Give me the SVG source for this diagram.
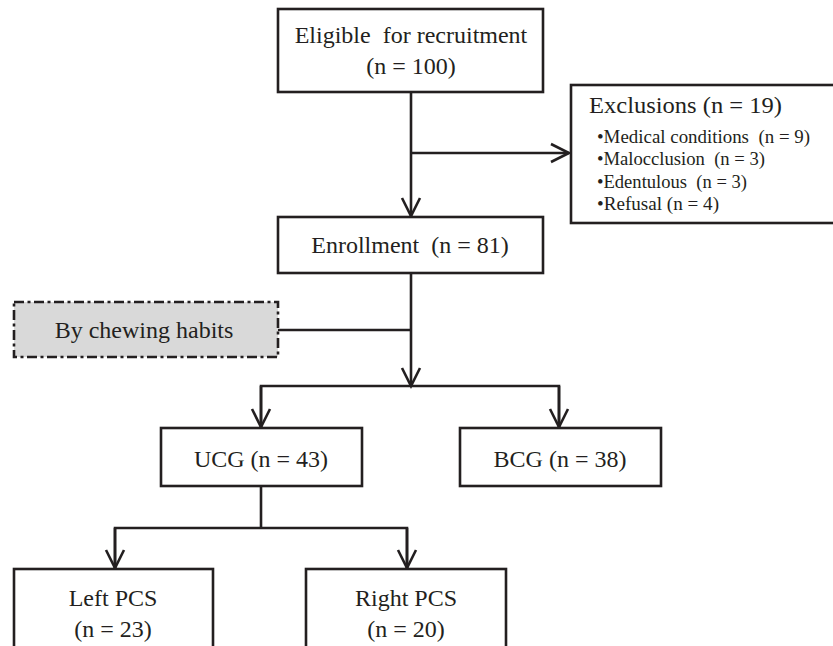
<svg xmlns="http://www.w3.org/2000/svg" width="833" height="646" viewBox="0 0 833 646">
<style>
  .box{fill:#ffffff;stroke:#231f20;stroke-width:2.6}
  .dash{fill:#d9d9d9;stroke:#231f20;stroke-width:2.6;stroke-dasharray:10 3.5 3 3.5}
  .ln{fill:none;stroke:#231f20;stroke-width:2.6}
  .t{font-family:"Liberation Serif","Times New Roman",serif;font-size:24px;fill:#231f20;white-space:pre}
  .s{font-family:"Liberation Serif","Times New Roman",serif;font-size:19.5px;fill:#231f20;white-space:pre}
  .c{text-anchor:middle}
</style>
<defs>
  <marker id="arr" markerUnits="userSpaceOnUse" markerWidth="24" markerHeight="24" refX="20" refY="12" orient="auto" viewBox="0 0 24 24">
    <path d="M2,3 L20,12 L2,21" fill="none" stroke="#231f20" stroke-width="2.6"/>
  </marker>
</defs>
<rect width="833" height="646" fill="#ffffff"/>
<g id="connectors">
  <line class="ln" x1="411" y1="92" x2="411" y2="216" marker-end="url(#arr)"/>
  <line class="ln" x1="411" y1="153" x2="569" y2="153" marker-end="url(#arr)"/>
  <line class="ln" x1="411" y1="273" x2="411" y2="386" marker-end="url(#arr)"/>
  <line class="ln" x1="278" y1="330" x2="411" y2="330"/>
  <polyline class="ln" points="261,428 261,386 559,386 559,428"/>
  <line class="ln" x1="261" y1="386" x2="261" y2="427" marker-end="url(#arr)"/>
  <line class="ln" x1="559" y1="386" x2="559" y2="427" marker-end="url(#arr)"/>
  <line class="ln" x1="261" y1="486" x2="261" y2="528"/>
  <polyline class="ln" points="115,569 115,528 407,528 407,569"/>
  <line class="ln" x1="115" y1="528" x2="115" y2="568" marker-end="url(#arr)"/>
  <line class="ln" x1="407" y1="528" x2="407" y2="568" marker-end="url(#arr)"/>
</g>
<g id="eligible">
  <rect class="box" x="278" y="9" width="265" height="83"/>
  <text class="t c" x="411" y="43" xml:space="preserve">Eligible  for recruitment</text>
  <text class="t c" x="411" y="74">(n = 100)</text>
</g>
<g id="exclusions">
  <rect class="box" x="571" y="85" width="266" height="138"/>
  <text class="t" x="589" y="113" textLength="193" lengthAdjust="spacingAndGlyphs">Exclusions (n = 19)</text>
  <text class="s" x="597" y="143" xml:space="preserve" textLength="213" lengthAdjust="spacingAndGlyphs">•Medical conditions  (n = 9)</text>
  <text class="s" x="597" y="165" xml:space="preserve" textLength="168" lengthAdjust="spacingAndGlyphs">•Malocclusion  (n = 3)</text>
  <text class="s" x="597" y="188" xml:space="preserve" textLength="150" lengthAdjust="spacingAndGlyphs">•Edentulous  (n = 3)</text>
  <text class="s" x="597" y="210" xml:space="preserve" textLength="122" lengthAdjust="spacingAndGlyphs">•Refusal (n = 4)</text>
</g>
<g id="enrollment">
  <rect class="box" x="278" y="217" width="265" height="56"/>
  <text class="t c" x="410" y="253" xml:space="preserve">Enrollment  (n = 81)</text>
</g>
<g id="chewing">
  <rect class="dash" x="14" y="302" width="264" height="55"/>
  <text class="t c" x="144" y="338">By chewing habits</text>
</g>
<g id="ucg">
  <rect class="box" x="161" y="428" width="201" height="58"/>
  <text class="t c" x="261" y="467">UCG (n = 43)</text>
</g>
<g id="bcg">
  <rect class="box" x="460" y="428" width="201" height="58"/>
  <text class="t c" x="560" y="467">BCG (n = 38)</text>
</g>
<g id="left-pcs">
  <rect class="box" x="14" y="569" width="199" height="100"/>
  <text class="t c" x="113" y="606">Left PCS</text>
  <text class="t c" x="113" y="637">(n = 23)</text>
</g>
<g id="right-pcs">
  <rect class="box" x="306" y="569" width="200" height="100"/>
  <text class="t c" x="406" y="606">Right PCS</text>
  <text class="t c" x="406" y="637">(n = 20)</text>
</g>
</svg>
